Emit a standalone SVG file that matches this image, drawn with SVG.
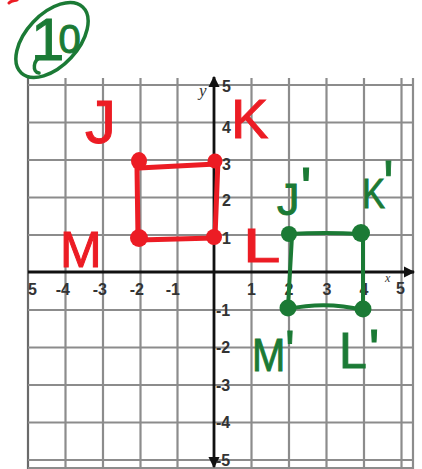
<svg xmlns="http://www.w3.org/2000/svg" width="422" height="469" viewBox="0 0 422 469">
<style>
.grid line{stroke:#8c8c8c;stroke-width:2.2}
.grid .dark{stroke:#6a6a6a}
.axis{stroke:#111;stroke-width:2.8;fill:none}
.tick{font-family:"Liberation Sans",Arial,sans-serif;font-size:16px;font-weight:bold;fill:#333}
.red{fill:#ec1c24}
.green{fill:#1b7a35}
.redl{stroke:#ec1c24;stroke-width:5;fill:none;stroke-linecap:round}
.greenl{stroke:#1b7a35;stroke-width:4;fill:none;stroke-linecap:round}
.hand{font-family:"Liberation Sans",Arial,sans-serif}
.hr{fill:#ec1c24;stroke:#ec1c24;stroke-width:1}
.hg{fill:#1b7a35;stroke:#1b7a35;stroke-width:1}
</style>
<defs>
<marker id="arr" viewBox="0 0 10 10" refX="9" refY="5" markerWidth="4" markerHeight="4" orient="auto-start-reverse" markerUnits="strokeWidth">
<path d="M0,0 L10,5 L0,10 Z" fill="#111"/>
</marker>
</defs>
<rect width="422" height="469" fill="#fff"/>
<g id="grid" class="grid">
<line class="dark" x1="28" y1="78" x2="28" y2="469"/>
<line x1="65.5" y1="78" x2="65.5" y2="469"/>
<line x1="103" y1="78" x2="103" y2="469"/>
<line x1="140.5" y1="78" x2="140.5" y2="469"/>
<line x1="177.5" y1="78" x2="177.5" y2="469"/>
<line x1="251.5" y1="78" x2="251.5" y2="469"/>
<line x1="289" y1="78" x2="289" y2="469"/>
<line x1="326.5" y1="78" x2="326.5" y2="469"/>
<line x1="364" y1="78" x2="364" y2="469"/>
<line x1="401.5" y1="78" x2="401.5" y2="469"/>
<line x1="413" y1="78" x2="413" y2="469"/>
<line x1="28" y1="85" x2="413" y2="85"/>
<line x1="28" y1="122.5" x2="413" y2="122.5"/>
<line x1="28" y1="160" x2="413" y2="160"/>
<line x1="28" y1="197.5" x2="413" y2="197.5"/>
<line x1="28" y1="235" x2="413" y2="235"/>
<line x1="28" y1="310" x2="413" y2="310"/>
<line x1="28" y1="347.5" x2="413" y2="347.5"/>
<line x1="28" y1="385" x2="413" y2="385"/>
<line x1="28" y1="422.5" x2="413" y2="422.5"/>
<line x1="28" y1="460" x2="413" y2="460"/>
<line x1="28" y1="468" x2="413" y2="468"/>
</g>
<g id="axes">
<line class="axis" x1="28" y1="272" x2="414" y2="272" marker-end="url(#arr)"/>
<line class="axis" x1="214" y1="77" x2="214" y2="467" marker-start="url(#arr)" marker-end="url(#arr)"/>
<text x="199" y="96" style="font-family:'Liberation Serif',serif;font-style:italic;font-size:17px;fill:#333">y</text>
<text x="385" y="282" style="font-family:'Liberation Serif',serif;font-style:italic;font-size:12px;fill:#333">x</text>
</g>
<g id="tick-labels" class="tick">
<text x="28" y="295">5</text>
<text x="70" y="295" text-anchor="end">-4</text>
<text x="107" y="295" text-anchor="end">-3</text>
<text x="144" y="295" text-anchor="end">-2</text>
<text x="180" y="295" text-anchor="end">-1</text>
<text x="251.5" y="295" text-anchor="middle">1</text>
<text x="289" y="295" text-anchor="middle">2</text>
<text x="327" y="295" text-anchor="middle">3</text>
<text x="364" y="295" text-anchor="middle">4</text>
<text x="396" y="294">5</text>
<text x="222" y="92">5</text>
<text x="222" y="133">4</text>
<text x="222" y="170">3</text>
<text x="222" y="206">2</text>
<text x="222" y="244">1</text>
<text x="216" y="316">-1</text>
<text x="216" y="353">-2</text>
<text x="216" y="391">-3</text>
<text x="216" y="428">-4</text>
<text x="216" y="466">-5</text>
</g>
<g id="problem-number">
<path d="M9,3 C12,0 15,1 17,0" class="redl" style="stroke-width:3"/>
<ellipse cx="52" cy="40" rx="45" ry="26" transform="rotate(-47 52 40)" fill="none" stroke="#1b7a35" stroke-width="3.5"/>
<path d="M41,57 C33,60 32,72 39,73" fill="none" stroke="#1b7a35" stroke-width="3.5" stroke-linecap="round"/>
<text class="hand hg" x="31" y="60" font-size="60">1<tspan font-size="40" dx="-6" dy="-7">0</tspan></text>
</g>
<g id="connectors">
<path class="redl" d="M139,168 L216,164"/>
<path class="redl" d="M137,168 L138,238"/>
<path class="redl" d="M218,160 L215,237"/>
<path class="redl" d="M139,240 L214,238"/>
<path class="greenl" d="M289,234 Q325,232 361,234"/>
<path class="greenl" d="M292,236 L288,307"/>
<path class="greenl" d="M363,233 L363,309"/>
<path class="greenl" d="M288,309 Q326,301 363,310"/>
</g>
<g id="node-J">
<ellipse class="red" cx="139" cy="161" rx="8" ry="9"/>
<text class="hand hr" x="85" y="143" font-size="62">J</text>
</g>
<g id="node-K">
<circle class="red" cx="215" cy="161" r="7.5"/>
<text class="hand hr" x="231" y="138" font-size="56">K</text>
</g>
<g id="node-L">
<circle class="red" cx="214" cy="237" r="8"/>
<text class="hand hr" font-size="48" transform="translate(243 262) scale(1.4 1)">L</text>
</g>
<g id="node-M">
<circle class="red" cx="139" cy="238" r="9"/>
<text class="hand hr" x="60" y="267" font-size="50">M</text>
</g>
<g id="node-J-prime">
<circle class="green" cx="289" cy="234" r="8"/>
<text class="hand hg" x="277" y="215" font-size="45">J<tspan dx="1" dy="-7" font-size="58">'</tspan></text>
</g>
<g id="node-K-prime">
<circle class="green" cx="361" cy="233" r="9"/>
<text class="hand hg" font-size="43" transform="translate(362 208) scale(0.8 1)">K<tspan dx="-2" font-size="68">'</tspan></text>
</g>
<g id="node-M-prime">
<circle class="green" cx="288" cy="308" r="8.5"/>
<text class="hand hg" font-size="47" transform="translate(252 371) scale(0.85 1)">M<tspan font-size="58">'</tspan></text>
</g>
<g id="node-L-prime">
<circle class="green" cx="363" cy="309" r="8.5"/>
<text class="hand hg" x="339" y="368" font-size="50">L<tspan dx="2" font-size="56">'</tspan></text>
</g>
</svg>
